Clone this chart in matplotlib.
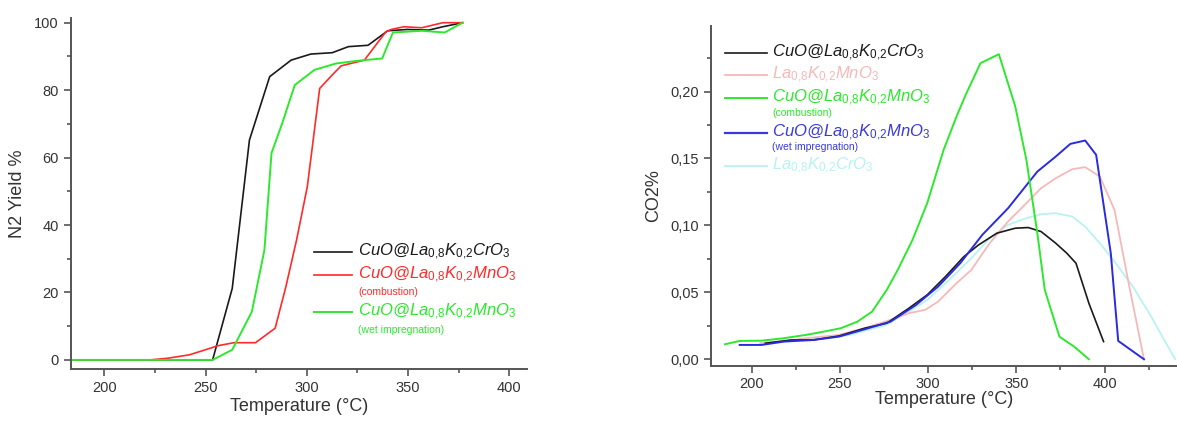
import matplotlib
matplotlib.use("Agg")
import matplotlib.pyplot as plt

plt.rcParams['font.family'] = ['Liberation Sans', 'DejaVu Sans']
plt.rcParams['mathtext.fontset'] = 'custom'
plt.rcParams['mathtext.it'] = 'Liberation Sans:italic'
plt.rcParams['mathtext.rm'] = 'Liberation Sans'
plt.rcParams['mathtext.default'] = 'it'

# ---- left panel: N2 yield ----
t_cr = [183, 253.5, 263.2, 271.7, 281.7, 292.3, 302, 312.6, 320.6, 330.3, 340, 349.7, 360.3, 367.3, 377]
y_cr = [0, 0, 21.2, 65.2, 84.0, 88.9, 90.7, 91.1, 92.9, 93.3, 97.6, 98.0, 97.8, 98.8, 100]

t_comb = [183, 222.6, 231.4, 242, 249.9, 256.1, 264, 274.7, 284.4, 289.7, 295, 300.3, 306.4,
          312.6, 317, 328.5, 339.1, 341.8, 348, 356.8, 367.3, 377]
y_comb = [0, 0, 0.5, 1.5, 3, 4.2, 5.1, 5.1, 9.4, 21.7, 35.6, 51.4, 80.5,
          84.5, 87.2, 88.9, 97.3, 98, 98.8, 98.5, 100, 100]

t_wet = [183, 253.5, 263.2, 272.9, 279.1, 282.6, 287.9, 294.1, 303.8, 314.4, 325, 337.3,
         342.6, 356.8, 368.2, 377]
y_wet = [0, 0, 3, 14.3, 32.6, 61.3, 70.2, 81.5, 86, 87.9, 88.7, 89.4,
         97.1, 97.6, 97.1, 100]

# ---- right panel: CO2 % ----
c_cr_t = [207.9, 222.5, 235, 249.5, 264.1, 276.6, 289.1, 299.5, 309.9, 320.3, 328.6, 339,
          349.4, 356.7, 364, 372.3, 378.6, 383.8, 391.1, 399.4]
c_cr_y = [0.012, 0.0144, 0.0144, 0.0174, 0.0232, 0.0269, 0.0381, 0.0481, 0.0618, 0.0767, 0.0854, 0.0942,
          0.0979, 0.0984, 0.0954, 0.0867, 0.0792, 0.0717, 0.0418, 0.0132]

c_mn_t = [205, 218.3, 230.8, 249.5, 264.1, 278.7, 289.1, 298.4, 305.7, 316.1, 324.5, 334.9, 345.3,
          355.7, 364, 372.3, 381.7, 389, 397.3, 405.6, 414, 422.3]
c_mn_y = [0.012, 0.0135, 0.0157, 0.0182, 0.0232, 0.0294, 0.0344, 0.0369, 0.0431, 0.0568, 0.0667, 0.0867, 0.1029,
          0.1166, 0.1278, 0.1352, 0.142, 0.1435, 0.1365, 0.1116, 0.0543, 0.0]

c_comb_t = [185, 193.3, 205.8, 218.3, 230.8, 241.2, 250.6, 260, 268.3, 276.6, 282.8, 291.2, 299.5,
            308.8, 316.1, 321.3, 329.7, 340.1, 349.4, 355.7, 361.9, 366.1, 374.4, 382.7, 391.1]
c_comb_y = [0.0112, 0.0137, 0.0139, 0.0157, 0.0182, 0.0207, 0.0232, 0.0281, 0.0356, 0.0518, 0.0667, 0.0892, 0.1166,
            0.1564, 0.1813, 0.1975, 0.2212, 0.2279, 0.1888, 0.1489, 0.0941, 0.0518, 0.0169, 0.0095, 0.0]

c_wet_t = [193.3, 205.8, 218.3, 235, 249.5, 264.1, 278.7, 293.2, 305.7, 318.2, 330.7, 345.3, 361.9,
           372.3, 380.6, 389, 395.2, 403.5, 407.7, 422.3]
c_wet_y = [0.0107, 0.0107, 0.0132, 0.0144, 0.0169, 0.0224, 0.0281, 0.0406, 0.0543, 0.0717, 0.0929, 0.1128, 0.1402,
           0.1514, 0.1609, 0.1634, 0.1527, 0.0792, 0.0137, 0.0]

c_lcr_t = [205, 230, 255, 276.6, 289.1, 299.5, 312, 324.5, 334.9, 345.3, 355.7, 364, 372.3, 381.7,
           389, 397.3, 405.6, 416, 426.4, 432.7, 440]
c_lcr_y = [0.012, 0.0145, 0.018, 0.0257, 0.0356, 0.0443, 0.0593, 0.0755, 0.0904, 0.1004, 0.1054, 0.1083, 0.1091, 0.1066,
           0.0991, 0.0867, 0.073, 0.0543, 0.0319, 0.0169, 0.0]

TXT = '#333333'
SPN = '#555555'

lbl_cr = r'CuO@La$_{0{,}8}$K$_{0{,}2}$CrO$_3$'
lbl_mn = r'CuO@La$_{0{,}8}$K$_{0{,}2}$MnO$_3$'
lbl_lmn = r'La$_{0{,}8}$K$_{0{,}2}$MnO$_3$'
lbl_lcr = r'La$_{0{,}8}$K$_{0{,}2}$CrO$_3$'


def style_axes(ax):
    for s in ['top', 'right']:
        ax.spines[s].set_visible(False)
    for s in ['left', 'bottom']:
        ax.spines[s].set_color(SPN)
        ax.spines[s].set_linewidth(1.4)
    ax.tick_params(which='both', direction='out', color=SPN, width=1.2, labelcolor=TXT, labelsize=10.5)
    ax.tick_params(which='major', length=5)
    ax.tick_params(which='minor', length=3)


def legend_entry(ax, y, text, color, lw, sub=None, x0=0.0, x1=0.1, xt=0.11, suby=None):
    ax.plot([x0, x1], [y, y], color=color, lw=lw, transform=ax.transAxes, clip_on=False)
    ax.text(xt, y, text, color=color, fontsize=12, style='italic', va='center', ha='left',
            transform=ax.transAxes)
    if sub is not None:
        ax.text(xt, suby, sub, color=color, fontsize=7.5, va='center', ha='left',
                transform=ax.transAxes)


fig = plt.figure(figsize=(11.77, 4.21), dpi=100)

# left
ax1 = fig.add_axes([0.0601, 0.1235, 0.3874, 0.833])
ax1.plot(t_cr, y_cr, color='#1a1a1a', lw=1.2)
ax1.plot(t_comb, y_comb, color='#ff2a2a', lw=1.2)
ax1.plot(t_wet, y_wet, color='#2ee82e', lw=1.4)
ax1.set_xlim(183.4, 408.7)
ax1.set_ylim(-2.7, 101.3)
ax1.set_xticks([200, 250, 300, 350, 400])
ax1.set_xticks([225, 275, 325, 375], minor=True)
ax1.set_yticks([0, 20, 40, 60, 80, 100])
ax1.set_yticks([10, 30, 50, 70, 90], minor=True)
style_axes(ax1)
ax1.set_xlabel('Temperature (°C)', fontsize=13, color=TXT, labelpad=2)
ax1.set_ylabel('N2 Yield %', fontsize=13, color=TXT, labelpad=6)

lx = dict(x0=0.534, x1=0.616, xt=0.630)
legend_entry(ax1, 0.3345, lbl_cr, '#1a1a1a', 1.2, **lx)
legend_entry(ax1, 0.268, lbl_mn, '#ff2a2a', 1.2, sub='(combustion)', suby=0.219, **lx)
legend_entry(ax1, 0.163, lbl_mn, '#2ee82e', 1.4, sub='(wet impregnation)', suby=0.111, **lx)

# right
ax2 = fig.add_axes([0.604, 0.1314, 0.396, 0.807])
ax2.plot(c_lcr_t, c_lcr_y, color='#b9f2f2', lw=1.3)
ax2.plot(c_mn_t, c_mn_y, color='#f5b9b9', lw=1.3)
ax2.plot(c_cr_t, c_cr_y, color='#1a1a1a', lw=1.2)
ax2.plot(c_wet_t, c_wet_y, color='#2a2ae0', lw=1.4)
ax2.plot(c_comb_t, c_comb_y, color='#2ee82e', lw=1.4)
ax2.set_xlim(177, 441)
ax2.set_ylim(-0.0048, 0.249)
ax2.set_xticks([200, 250, 300, 350, 400])
ax2.set_xticks([225, 275, 325, 375, 425], minor=True)
ax2.set_yticks([0, 0.05, 0.10, 0.15, 0.20])
ax2.set_yticklabels(['0,00', '0,05', '0,10', '0,15', '0,20'])
ax2.set_yticks([0.025, 0.075, 0.125, 0.175, 0.225], minor=True)
style_axes(ax2)
ax2.set_xlabel('Temperature (°C)', fontsize=13, color=TXT, labelpad=0)
ax2.set_ylabel('CO2%', fontsize=13, color=TXT, labelpad=6)

rx = dict(x0=0.0305, x1=0.121, xt=0.131)
legend_entry(ax2, 0.920, lbl_cr, '#1a1a1a', 1.2, **rx)
legend_entry(ax2, 0.856, lbl_lmn, '#f5b9b9', 1.3, **rx)
legend_entry(ax2, 0.787, lbl_mn, '#2ee82e', 1.4, sub='(combustion)', suby=0.745, **rx)
legend_entry(ax2, 0.686, lbl_mn, '#3a3ad8', 1.6, sub='(wet impregnation)', suby=0.643, **rx)
legend_entry(ax2, 0.589, lbl_lcr, '#b9f2f2', 1.3, **rx)

fig.savefig('out.png', dpi=100)
